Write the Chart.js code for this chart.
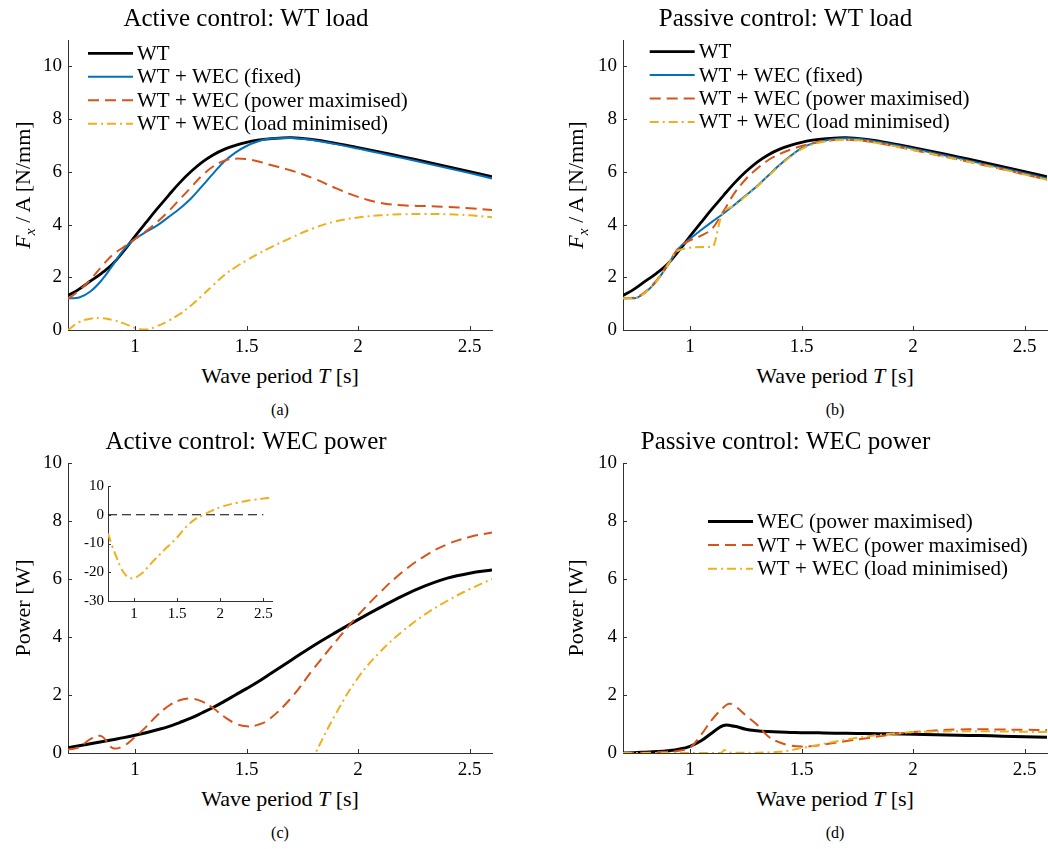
<!DOCTYPE html>
<html><head><meta charset="utf-8">
<script src="https://cdn.jsdelivr.net/npm/chart.js@4.4.1/dist/chart.umd.min.js"></script>
<style>
body{margin:0;background:#fff;width:1048px;height:849px;position:relative;overflow:hidden;font-family:"Liberation Serif",serif;color:#000}
canvas{position:absolute}
.lbl{position:absolute;white-space:nowrap;font-size:22px;line-height:1;transform:translate(-50%,-50%)}
.ylbl{transform:translate(-50%,-50%) rotate(-90deg)}
.cap{font-size:16px}
sub{font-size:70%;vertical-align:-0.3em;line-height:0}
</style></head><body>
<canvas id="ca" width="524" height="360" style="left:0;top:0"></canvas>
<canvas id="cb" width="524" height="360" style="left:524px;top:0"></canvas>
<canvas id="cc" width="524" height="360" style="left:0;top:423px"></canvas>
<canvas id="cd" width="524" height="360" style="left:524px;top:423px"></canvas>
<canvas id="ci" width="220" height="160" style="left:60px;top:470px"></canvas>

<div class="lbl ylbl" style="left:23px;top:185px"><i>F<sub>x</sub></i> / A [N/mm]</div>
<div class="lbl ylbl" style="left:576px;top:185px"><i>F<sub>x</sub></i> / A [N/mm]</div>
<div class="lbl ylbl" style="left:23px;top:608px">Power [W]</div>
<div class="lbl ylbl" style="left:576px;top:608px">Power [W]</div>
<div class="lbl" style="left:280px;top:376px">Wave period <i>T</i> [s]</div>
<div class="lbl" style="left:835px;top:376px">Wave period <i>T</i> [s]</div>
<div class="lbl" style="left:280px;top:799px">Wave period <i>T</i> [s]</div>
<div class="lbl" style="left:835px;top:799px">Wave period <i>T</i> [s]</div>
<div class="lbl cap" style="left:280px;top:410px">(a)</div>
<div class="lbl cap" style="left:835px;top:410px">(b)</div>
<div class="lbl cap" style="left:280px;top:833px">(c)</div>
<div class="lbl cap" style="left:835px;top:833px">(d)</div>

<script>
// ---------- data ----------
const T = [0.7,0.75,0.8,0.85,0.9,0.95,1.0,1.05,1.1,1.15,1.2,1.25,1.3,1.35,1.4,1.45,1.5,1.55,1.6,1.7,1.8,1.9,2.0,2.1,2.2,2.3,2.4,2.5,2.6];
const xTicks = [1,1.5,2,2.5];
const loadTicks = [0,2,4,6,8,10];
const powerTicks = [0,2,4,6,8,10];
const insetTicks = [-30,-20,-10,0,10];

// (a) active control: WT load
const wtLoad        = [1.31,1.55,1.85,2.15,2.5,3.0,3.55,4.08,4.6,5.1,5.58,6.0,6.36,6.64,6.85,7.0,7.12,7.2,7.25,7.3,7.22,7.08,6.92,6.75,6.57,6.39,6.2,6.01,5.82];
const activeFixed   = [1.2,1.23,1.46,1.88,2.45,3.05,3.45,3.72,3.97,4.28,4.6,4.98,5.45,5.93,6.39,6.73,6.98,7.15,7.25,7.28,7.2,7.05,6.88,6.7,6.52,6.33,6.14,5.95,5.75];
const activePowMax  = [1.18,1.5,1.9,2.4,2.85,3.15,3.45,3.75,4.1,4.5,4.95,5.4,5.85,6.2,6.42,6.5,6.48,6.4,6.28,6.05,5.75,5.38,5.05,4.82,4.73,4.7,4.67,4.62,4.55];
const activeLoadMin = [0.0,0.3,0.43,0.45,0.38,0.25,0.08,0.02,0.15,0.35,0.6,0.92,1.3,1.7,2.08,2.38,2.64,2.88,3.1,3.5,3.86,4.12,4.27,4.35,4.39,4.4,4.39,4.35,4.28];

// (b) passive control: WT load
const passiveFixed  = [1.2,1.2,1.42,1.85,2.45,3.1,3.46,3.79,4.11,4.42,4.75,5.1,5.45,5.85,6.25,6.6,6.9,7.08,7.18,7.27,7.2,7.05,6.88,6.7,6.52,6.33,6.14,5.95,5.75];
const passivePowMax = [1.2,1.22,1.45,1.88,2.5,3.12,3.4,3.58,3.85,4.5,5.2,5.72,6.12,6.44,6.67,6.84,6.98,7.08,7.16,7.22,7.15,7.0,6.83,6.65,6.47,6.29,6.1,5.9,5.7];
const Tpl = [0.7,0.75,0.8,0.85,0.9,0.93,0.95,1.0,1.05,1.1,1.143,1.2,1.25,1.3,1.35,1.4,1.45,1.5,1.55,1.6,1.7,1.8,1.9,2.0,2.1,2.2,2.3,2.4,2.5,2.6];
const passiveLoadMin = [1.2,1.2,1.42,1.85,2.45,2.9,3.02,3.12,3.15,3.15,4.38,4.72,5.08,5.43,5.83,6.22,6.57,6.86,7.04,7.14,7.22,7.15,7.0,6.83,6.65,6.47,6.29,6.1,5.9,5.7];

// (c) active control: WEC power
const wecPowerActive   = [0.18,0.25,0.32,0.39,0.46,0.53,0.61,0.7,0.8,0.91,1.05,1.2,1.38,1.57,1.78,2.0,2.22,2.45,2.7,3.2,3.7,4.16,4.6,5.02,5.42,5.76,6.03,6.2,6.31];
const activePowMaxP    = [0.12,0.2,0.48,0.58,0.17,0.25,0.55,0.9,1.3,1.62,1.82,1.88,1.78,1.55,1.25,1.02,0.92,0.97,1.15,1.9,2.9,3.85,4.75,5.55,6.25,6.8,7.2,7.45,7.6];
const activeLoadMinP   = [-6.5,-11,-14.8,-18.5,-20.8,-21.9,-22.1,-21.3,-20.2,-18.6,-16.9,-15.3,-13.8,-12.3,-10.9,-9.4,-7.9,-6.1,-4.4,-1.8,-0.15,1.35,2.6,3.5,4.2,4.78,5.25,5.65,6.0];
const zeroT = [0.7,2.5];
const zeroV = [0,0];

// (d) passive control: WEC power
const wecPowerPassive = [0.0,0.01,0.03,0.05,0.08,0.13,0.23,0.42,0.7,0.95,0.92,0.82,0.77,0.74,0.72,0.71,0.7,0.7,0.69,0.68,0.67,0.66,0.65,0.63,0.61,0.6,0.58,0.56,0.54];
const Tpm = [0.7,0.8,0.9,0.95,1.0,1.05,1.1,1.15,1.175,1.2,1.25,1.3,1.35,1.4,1.45,1.5,1.55,1.6,1.7,1.8,1.9,2.0,2.1,2.2,2.3,2.4,2.5,2.6];
const passivePowMaxP = [0,0.01,0.04,0.08,0.18,0.63,1.16,1.57,1.7,1.63,1.3,0.98,0.58,0.37,0.26,0.22,0.24,0.29,0.41,0.52,0.63,0.72,0.78,0.81,0.82,0.81,0.8,0.79];
const Tlm = [0.7,0.9,1.0,1.1,1.14,1.155,1.17,1.2,1.25,1.3,1.35,1.4,1.45,1.5,1.55,1.6,1.7,1.8,1.9,2.0,2.1,2.2,2.3,2.4,2.5,2.6];
const passiveLoadMinP = [0,0,0,0,0.01,0.1,0.03,0.01,0.01,0.01,0.02,0.04,0.09,0.17,0.24,0.32,0.46,0.58,0.66,0.72,0.74,0.75,0.75,0.74,0.73,0.72];

// ---------- styling ----------
const F = '"Liberation Serif", serif';
const AX = '#333333';
const C_BLACK = '#000000', C_BLUE = '#0072BD', C_RED = '#D95319', C_YEL = '#EDB120';
const DASH = [11,6], DASHDOT = [9,4,2,4];

function ds(label, xs, ys, color, width, dash, order, opt){
  opt = opt || {};
  const d = {label, data: xs.map((x,i)=>({x:x, y:ys[i]})), borderColor:color, backgroundColor:color,
    borderWidth:width, borderDash:dash||[], pointRadius:0, pointHoverRadius:0, fill:false,
    order:order, noLegend:!!opt.noLegend};
  if (opt.mono) { d.cubicInterpolationMode = 'monotone'; } else { d.tension = 0.4; }
  return d;
}

const inTicks = {
  id:'inTicks',
  afterDatasetsDraw(chart, args, o){
    const ctx=chart.ctx, a=chart.chartArea, len=o.len||4;
    const xs=chart.scales.x, ys=chart.scales.y;
    ctx.save(); ctx.strokeStyle=AX; ctx.lineWidth=1; ctx.setLineDash([]);
    ctx.beginPath();
    xs.ticks.forEach(t=>{const px=Math.round(xs.getPixelForValue(t.value))+0.5; ctx.moveTo(px,a.bottom); ctx.lineTo(px,a.bottom-len);});
    ys.ticks.forEach(t=>{const py=Math.round(ys.getPixelForValue(t.value))+0.5; ctx.moveTo(a.left,py); ctx.lineTo(a.left+len,py);});
    ctx.stroke(); ctx.restore();
  }
};

const lineLegend = {
  id:'lineLegend',
  afterDraw(chart, args, o){
    if(!o || !o.show) return;
    const ctx=chart.ctx, a=chart.chartArea;
    ctx.save();
    ctx.font = o.size + 'px ' + F; ctx.textBaseline='middle'; ctx.textAlign='left'; ctx.fillStyle='#000';
    let row=0;
    chart.data.datasets.forEach(d=>{
      if(d.noLegend) return;
      const y = a.top + o.y + row*o.dy, x0 = a.left + o.x;
      ctx.strokeStyle=d.borderColor; ctx.lineWidth=d.borderWidth; ctx.setLineDash(d.borderDash||[]);
      ctx.beginPath(); ctx.moveTo(x0,y); ctx.lineTo(x0+o.len,y); ctx.stroke();
      ctx.setLineDash([]);
      ctx.fillText(d.label, x0+o.len+o.gap, y+1);
      row++;
    });
    ctx.restore();
  }
};

function makeChart(id, p){
  const tickFont = {family:F, size:p.tickSize||19};
  return new Chart(document.getElementById(id), {
    type:'line',
    data:{datasets:p.datasets},
    plugins:[inTicks, lineLegend],
    options:{
      responsive:false, animation:false, devicePixelRatio:1,
      layout:{padding:p.padding},
      plugins:{
        legend:{display:false}, tooltip:{enabled:false},
        title: p.title ? {display:true, text:p.title, color:'#000', font:{family:F, size:25, weight:'normal', lineHeight:1.2}, padding:{top:4,bottom:6}} : {display:false},
        inTicks:{len:p.tickLen||4},
        lineLegend:p.legend||{show:false}
      },
      scales:{
        x:{type:'linear', min:0.7, max:2.6,
          afterBuildTicks:s=>{s.ticks = xTicks.map(v=>({value:v}));},
          afterFit:s=>{s.height=p.xh;},
          grid:{display:false, drawTicks:false, tickLength:0},
          border:{display:true, color:AX, width:1},
          ticks:{color:'#000', font:tickFont, padding:p.xpad||6, maxRotation:0, autoSkip:false, callback:v=>String(v)}},
        y:{type:'linear', min:p.ymin, max:p.ymax,
          afterBuildTicks:s=>{s.ticks = p.yticks.map(v=>({value:v}));},
          afterFit:s=>{s.width=p.yw;},
          grid:{display:false, drawTicks:false, tickLength:0},
          border:{display:true, color:AX, width:1},
          ticks:{color:'#000', font:tickFont, padding:p.ypad||6, autoSkip:false, callback:v=>String(v)}}
      }
    }
  });
}

const LBL_WT='WT', LBL_FIX='WT + WEC (fixed)', LBL_PM='WT + WEC (power maximised)', LBL_LM='WT + WEC (load minimised)';

makeChart('ca', {
  title:'Active control: WT load', padding:{left:0,right:32,top:0,bottom:0}, yw:68, xh:30,
  ymin:0, ymax:11, yticks:loadTicks,
  legend:{show:true, x:20, y:13.3, dy:23.5, len:45, gap:4, size:21},
  datasets:[
    ds(LBL_WT, T, wtLoad, C_BLACK, 2.8, [], 4),
    ds(LBL_FIX, T, activeFixed, C_BLUE, 2, [], 3),
    ds(LBL_PM, T, activePowMax, C_RED, 2, DASH, 2),
    ds(LBL_LM, T, activeLoadMin, C_YEL, 2, DASHDOT, 1)
  ]
});

makeChart('cb', {
  title:'Passive control: WT load', padding:{left:0,right:1,top:0,bottom:0}, yw:99, xh:30,
  ymin:0, ymax:11, yticks:loadTicks,
  legend:{show:true, x:26.7, y:11.7, dy:23.4, len:45, gap:4, size:21},
  datasets:[
    ds(LBL_WT, T, wtLoad, C_BLACK, 2.8, [], 4),
    ds(LBL_FIX, T, passiveFixed, C_BLUE, 2, [], 3, {mono:true}),
    ds(LBL_PM, T, passivePowMax, C_RED, 2, DASH, 2, {mono:true}),
    ds(LBL_LM, Tpl, passiveLoadMin, C_YEL, 2, DASHDOT, 1, {mono:true})
  ]
});

makeChart('cc', {
  title:'Active control: WEC power', padding:{left:0,right:32,top:0,bottom:0}, yw:68, xh:30,
  ymin:0, ymax:10, yticks:powerTicks,
  datasets:[
    ds('WEC (power maximised)', T, wecPowerActive, C_BLACK, 3, [], 3),
    ds(LBL_PM, T, activePowMaxP, C_RED, 2, DASH, 2),
    ds(LBL_LM, T, activeLoadMinP, C_YEL, 2, DASHDOT, 1)
  ]
});

makeChart('cd', {
  title:'Passive control: WEC power', padding:{left:0,right:1,top:0,bottom:0}, yw:99, xh:30,
  ymin:0, ymax:10, yticks:powerTicks,
  legend:{show:true, x:85, y:58.4, dy:23.7, len:45, gap:4, size:21},
  datasets:[
    ds('WEC (power maximised)', T, wecPowerPassive, C_BLACK, 3, [], 3),
    ds(LBL_PM, Tpm, passivePowMaxP, C_RED, 2, DASH, 2),
    ds(LBL_LM, Tlm, passiveLoadMinP, C_YEL, 2, DASHDOT, 1, {mono:true})
  ]
});

makeChart('ci', {
  title:null, padding:{left:0,right:8,top:16,bottom:0}, yw:48, xh:29, tickSize:15, tickLen:3, xpad:4, ypad:4,
  ymin:-30, ymax:10, yticks:insetTicks,
  datasets:[
    ds('zero', zeroT, zeroV, C_BLACK, 1, [9,5], 2, {noLegend:true, mono:true}),
    ds(LBL_LM, T, activeLoadMinP, C_YEL, 2, DASHDOT, 1, {noLegend:true})
  ]
});
</script>
</body></html>
